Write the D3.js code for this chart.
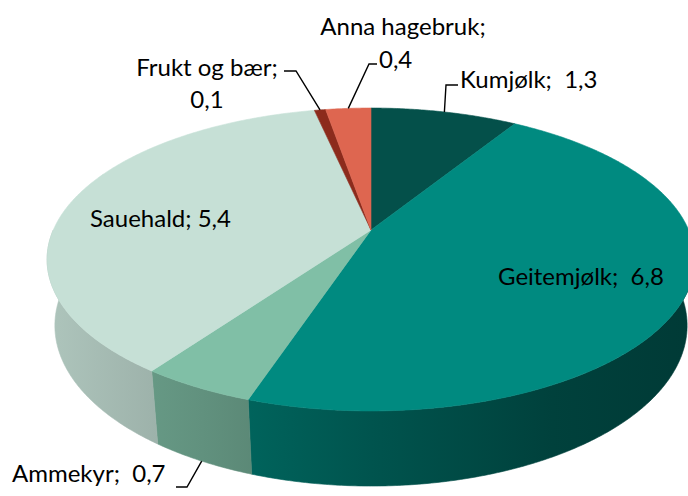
<!DOCTYPE html>
<html><head><meta charset="utf-8">
<script src="https://cdn.jsdelivr.net/npm/d3@7"></script>
<style>
body{margin:0;background:#fff}
svg{display:block}
text{font-family:Lato,'Open Sans',sans-serif;fill:#000}
</style>
</head><body><script>
// ---- data ----
const categories = ["Kumjølk", "Geitemjølk", "Ammekyr", "Sauehald", "Frukt og bær", "Anna hagebruk"];
const values = [1.3, 6.8, 0.7, 5.4, 0.1, 0.4];
const valueLabels = ["1,3", "6,8", "0,7", "5,4", "0,1", "0,4"];
const separators = [";\u00a0\u00a0", ";\u00a0\u00a0", ";\u00a0\u00a0", ";\u00a0", ";", ";"];
const colors = ["#04504A", "#008A80", "#80BFA6", "#C6E0D6", "#8C2B1C", "#DE6650"];

// ---- layout ----
const W = 688, H = 496;
const svg = d3.select("body").append("svg").attr("width", W).attr("height", H);
const defs = svg.append("defs");

// perspective projection of a tilted disc
const cx = 371, cy = 230, K = 1450, phi = 27.3 * Math.PI / 180, Dd = 4.564, thick = 0.2357;
const sp = Math.sin(phi), cp = Math.cos(phi);
function proj(theta, z) {
  const X = Math.sin(theta), Y = Math.cos(theta);
  const d = Y * cp - z * sp + Dd;
  return [cx + K * X / d, cy - K * (Y * sp + z * cp) / d];
}
function arcPts(a0, a1, z) {
  const n = Math.max(2, Math.ceil(Math.abs(a1 - a0) / (Math.PI / 360)));
  return d3.range(n + 1).map(i => proj(a0 + (a1 - a0) * i / n, z));
}
const line = d3.line();

const pie = d3.pie().sort(null).value(d => d);
const arcs = pie(values);

// side shading (lighter on the left, darker on the right)
const shade = d3.scaleLinear().domain([0, 0.24, 0.5, 0.78, 1]).range([0.88, 0.76, 0.61, 0.47, 0.42]);
arcs.forEach((a, i) => {
  const g = defs.append("linearGradient").attr("id", "side" + i)
    .attr("gradientUnits", "userSpaceOnUse").attr("x1", 47).attr("x2", 695).attr("y1", 0).attr("y2", 0);
  const base = d3.rgb(colors[i]);
  shade.domain().forEach(t => {
    const f = shade(t);
    g.append("stop").attr("offset", t).attr("stop-color", d3.rgb(base.r * f, base.g * f, base.b * f).formatHex());
  });
});

// sides (front half only)
const sideG = svg.append("g");
arcs.forEach((a, i) => {
  const a0 = Math.max(a.startAngle, Math.PI / 2), a1 = Math.min(a.endAngle, 3 * Math.PI / 2);
  if (a1 <= a0) return;
  const pts = arcPts(a0, a1, 0).concat(arcPts(a1, a0, -thick));
  sideG.append("path").attr("d", line(pts) + "Z").attr("fill", `url(#side${i})`)
    .attr("stroke", `url(#side${i})`).attr("stroke-width", 0.6);
});

// top faces
const topG = svg.append("g");
arcs.forEach((a, i) => {
  const pts = [[cx, cy]].concat(arcPts(a.startAngle, a.endAngle, 0));
  topG.append("path").attr("d", line(pts) + "Z").attr("fill", colors[i])
    .attr("stroke", colors[i]).attr("stroke-width", 0.6).attr("stroke-linejoin", "round");
});

// leader lines: from rim at mid-angle to elbow and stub end
const leaders = {
  0: [[446, 85], [458, 85]],
  2: [[187, 487], [176, 487]],
  4: [[296, 71], [284, 71]],
  5: [[369, 64], [377, 64]]
};
Object.keys(leaders).forEach(k => {
  const a = arcs[k];
  const mid = (a.startAngle + a.endAngle) / 2;
  const z = Math.cos(mid) < 0 ? -thick : 0;
  const pts = [proj(mid, z)].concat(leaders[k]);
  svg.append("path").attr("d", line(pts)).attr("fill", "none")
    .attr("stroke", "#000").attr("stroke-width", 1.4);
});

// labels
const fs = 24;
const labelPos = {
  0: {x: 460, y: 88, anchor: "start"},
  1: {x: 498, y: 285, anchor: "start"},
  2: {x: 12, y: 482, anchor: "start"},
  3: {x: 90, y: 227, anchor: "start"}
};
const txt = svg.append("g").attr("font-size", fs);
Object.keys(labelPos).forEach(k => {
  const p = labelPos[k];
  txt.append("text").attr("x", p.x).attr("y", p.y).attr("text-anchor", p.anchor)
    .text(categories[k] + separators[k] + valueLabels[k]);
});
// two-line labels
const twoLine = {
  4: {x1: 207, y1: 76, x2: 207, y2: 108, a2: "middle"},
  5: {x1: 403, y1: 35, x2: 379, y2: 68, a2: "start"}
};
Object.keys(twoLine).forEach(k => {
  const p = twoLine[k];
  txt.append("text").attr("x", p.x1).attr("y", p.y1).attr("text-anchor", "middle")
    .text(categories[k] + separators[k]);
  txt.append("text").attr("x", p.x2).attr("y", p.y2).attr("text-anchor", p.a2)
    .text(valueLabels[k]);
});
</script></body></html>
